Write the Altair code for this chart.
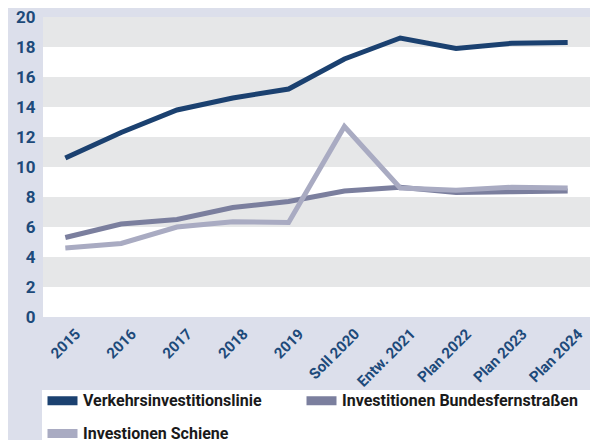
import altair as alt
import pandas as pd

years = ["2015", "2016", "2017", "2018", "2019", "Soll 2020", "Entw. 2021", "Plan 2022", "Plan 2023", "Plan 2024"]
verkehr = [10.6, 12.3, 13.8, 14.6, 15.2, 17.2, 18.6, 17.9, 18.25, 18.3]
bundes = [5.3, 6.2, 6.5, 7.3, 7.7, 8.4, 8.65, 8.3, 8.35, 8.4]
schiene = [4.6, 4.9, 6.0, 6.35, 6.3, 12.7, 8.6, 8.45, 8.65, 8.6]
series = ["Verkehrsinvestitionslinie", "Investitionen Bundesfernstraßen", "Investionen Schiene"]
colors = ["#1b4170", "#7b7f9e", "#a9abc2"]
band_lo = [18, 14, 10, 6, 2]
band_hi = [20, 16, 12, 8, 4]
y_ticks = [0, 2, 4, 6, 8, 10, 12, 14, 16, 18, 20]

rows = []
for name, vals in [(series[1], bundes), (series[2], schiene), (series[0], verkehr)]:
    for i, (yr, v) in enumerate(zip(years, vals)):
        rows.append({"Jahr": yr, "Wert": v, "Reihe": name, "ord": i})
df = pd.DataFrame(rows)
bands = pd.DataFrame({"lo": band_lo, "hi": band_hi})

W, H = 547, 300
FONT = "Roboto"
LABEL_COLOR = "#1d4a7a"

yscale = alt.Scale(domain=[0, 20], nice=False, zero=True)
yaxis = alt.Axis(values=y_ticks, title=None, grid=False, domain=False, ticks=False,
                 labelFont=FONT, labelFontSize=17, labelFontWeight="bold",
                 labelColor=LABEL_COLOR, labelPadding=8)

stripes = alt.Chart(bands).mark_rect(color="#e6e7e8").encode(
    x=alt.value(0), x2=alt.value(W),
    y=alt.Y("lo:Q", scale=yscale, axis=yaxis),
    y2="hi:Q",
)

# white panel behind the legend
legend_box = alt.Chart(pd.DataFrame({"k": [0]})).mark_rect(color="white").encode(
    x=alt.value(-1), x2=alt.value(W + 20), y=alt.value(373), y2=alt.value(450),
)

lines = alt.Chart(df).mark_line(strokeWidth=5, strokeJoin="miter", strokeCap="butt").encode(
    x=alt.X("Jahr:N", sort=years, scale=alt.Scale(type="point", padding=0.4),
            axis=alt.Axis(title=None, domain=False, ticks=False, labelAngle=-45,
                          labelAlign="right", labelBaseline="middle", labelPadding=14,
                          labelOffset=12, labelFont=FONT, labelFontSize=15,
                          labelFontWeight="bold", labelColor=LABEL_COLOR)),
    y=alt.Y("Wert:Q", scale=yscale, axis=yaxis),
    color=alt.Color("Reihe:N", scale=alt.Scale(domain=series, range=colors),
                    legend=alt.Legend(title=None, orient="none", legendX=-1, legendY=370,
                                      direction="horizontal",
                                      columns=2, columnPadding=26, rowPadding=-4,
                                      padding=5, labelLimit=400,
                                      symbolType="M-4,0H4", symbolStrokeWidth=9,
                                      symbolSize=56.25, symbolOffset=7,
                                      labelFont=FONT, labelFontSize=16, labelFontWeight="bold",
                                      labelColor="#1a1a1a", labelOffset=12)),
    order="ord:Q",
)

chart = alt.layer(stripes, legend_box, lines).properties(
    width=W, height=H,
    background="#dcdfeb",
    padding={"left": 35, "top": 9, "right": 0, "bottom": 123},
    autosize=alt.AutoSizeParams(type="none"),
).configure_view(fill="white", stroke=None)

chart.save("out.html", embed_options={"renderer": "svg", "actions": False})
